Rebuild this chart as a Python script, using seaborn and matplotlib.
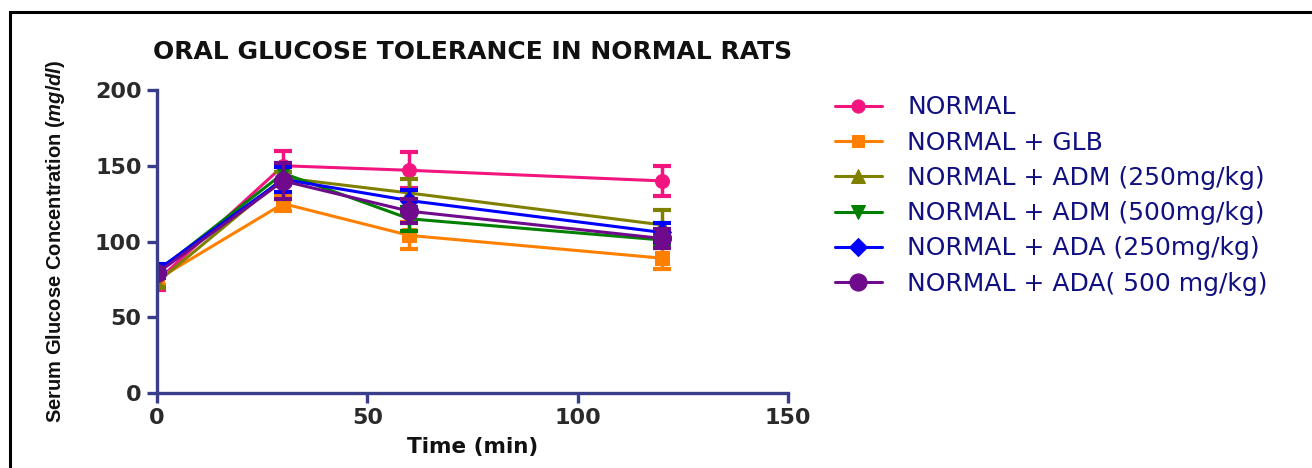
import matplotlib
matplotlib.use("Agg")
import matplotlib.pyplot as plt
import seaborn as sns
import pandas as pd
from matplotlib.patches import Rectangle

# ---- data ----
time_min = [0, 30, 60, 120]
groups = ["NORMAL", "NORMAL + GLB", "NORMAL + ADM (250mg/kg)",
          "NORMAL + ADM (500mg/kg)", "NORMAL + ADA (250mg/kg)",
          "NORMAL + ADA( 500 mg/kg)"]
normal_mean = [74, 150, 147, 140]
normal_sem = [6, 10, 12, 10]
glb_mean = [75, 125, 104, 89]
glb_sem = [4, 5, 9, 7]
adm250_mean = [73, 142, 132, 111]
adm250_sem = [3, 4, 9, 10]
adm500_mean = [80, 145, 115, 101]
adm500_sem = [3, 5, 8, 4]
ada250_mean = [81, 141, 127, 106]
ada250_sem = [4, 8, 7, 6]
ada500_mean = [79, 140, 120, 102]
ada500_sem = [3, 12, 8, 6]

means = [normal_mean, glb_mean, adm250_mean, adm500_mean, ada250_mean, ada500_mean]
sems = [normal_sem, glb_sem, adm250_sem, adm500_sem, ada250_sem, ada500_sem]
colors = ["#f3157f", "#ff8000", "#808000", "#008000", "#0000ff", "#700a8c"]
markers = ["o", "s", "^", "v", "D", "o"]
msizes = [10, 9.5, 10, 10, 9.5, 13]

sns.set_theme(style="white")
plt.rcParams["font.family"] = ["DejaVu Sans"]
plt.rcParams["mathtext.fontset"] = "custom"
plt.rcParams["mathtext.it"] = "Liberation Sans:italic:bold"
plt.rcParams["mathtext.rm"] = "Liberation Sans:bold"

fig = plt.figure(figsize=(13.12, 4.68), dpi=100)
ax = fig.add_axes([157/1312, 1-393/468, (788-157)/1312, (393-90)/468])

spine_col = "#3a3d8a"
for g, m, s, c, mk, ms in zip(groups, means, sems, colors, markers, msizes):
    df = pd.DataFrame({"t": time_min, "v": m})
    sns.lineplot(data=df, x="t", y="v", color=c, marker=mk, markersize=ms,
                 markeredgecolor=c, linewidth=2.2, ax=ax, label=g, legend=False)
    ax.errorbar(time_min, m, yerr=s, fmt="none", ecolor=c, elinewidth=2.5,
                capsize=6.5, capthick=3)

ax.set_xlim(0, 150)
ax.set_ylim(0, 200)
ax.set_xticks([0, 50, 100, 150])
ax.set_yticks([0, 50, 100, 150, 200])
for sp in ["top", "right"]:
    ax.spines[sp].set_visible(False)
for sp in ["left", "bottom"]:
    ax.spines[sp].set_color(spine_col)
    ax.spines[sp].set_linewidth(2.4)
ax.tick_params(axis="both", direction="out", length=7, width=2.4,
               color=spine_col, labelsize=16, labelcolor="#2a2a2a",
               bottom=True, left=True, pad=4)
for lab in ax.get_xticklabels() + ax.get_yticklabels():
    lab.set_fontweight("bold")

ax.set_xlabel("Time (min)", fontsize=15.5, fontweight="bold", color="#111111", labelpad=6)
ax.set_ylabel(r"Serum Glucose Concentration ($\it{mg/dl}$)", fontsize=14.5,
              fontweight="bold", family="Liberation Sans", color="#111111", labelpad=20)
ax.set_title("ORAL GLUCOSE TOLERANCE IN NORMAL RATS", fontsize=18,
             fontweight="bold", color="#111111", pad=22)

h, l = ax.get_legend_handles_labels()
leg = fig.legend(h, l, loc="upper left", bbox_to_anchor=(812/1312, 1-73/468),
                 frameon=False, fontsize=18, handlelength=1.9, handletextpad=1.0,
                 labelspacing=0.45, markerscale=0.95)
for t in leg.get_texts():
    t.set_color("#101080")

fig.patches.append(Rectangle((10/1312, -0.2), 1.2, 1.2 - 12/468,
                             transform=fig.transFigure, fill=False,
                             edgecolor="black", linewidth=2.2, clip_on=False))

fig.savefig("out.png", dpi=100)
